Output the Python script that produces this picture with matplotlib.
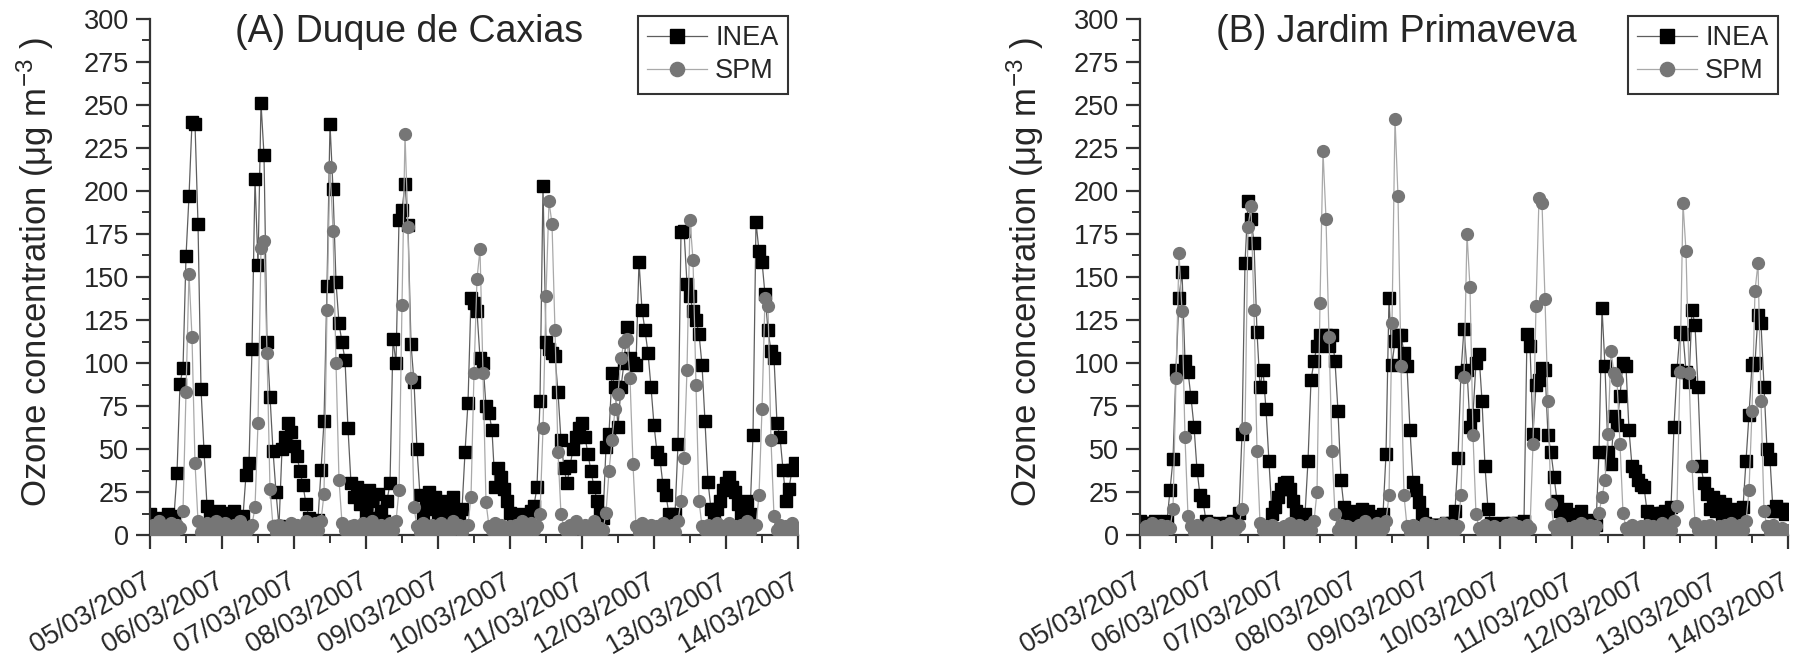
import numpy as np
import matplotlib
matplotlib.use("Agg")
import matplotlib.pyplot as plt

plt.rcParams['font.family'] = ['Liberation Sans', 'DejaVu Sans']
plt.rcParams['mathtext.fontset'] = 'custom'
plt.rcParams['mathtext.rm'] = 'Liberation Sans'
plt.rcParams['mathtext.it'] = 'Liberation Sans:italic'
plt.rcParams['mathtext.bf'] = 'Liberation Sans:bold'

# ---------------- data (hourly, 05/03/2007 00h .. 14/03/2007 00h) ----------------
date_labels = ['05/03/2007', '06/03/2007', '07/03/2007', '08/03/2007', '09/03/2007',
               '10/03/2007', '11/03/2007', '12/03/2007', '13/03/2007', '14/03/2007']

caxias_inea = [
    12, 10, 8, 9, 7, 10, 12, 9, 11, 36, 88, 97, 162, 197, 240, 239, 181, 85, 49, 17, 12, 9, 11, 14,
    10, 13, 9, 12, 14, 10, 8, 11, 35, 42, 108, 207, 157, 251, 221, 112, 80, 49, 25, 5, 50, 57, 65, 60,
    52, 46, 37, 29, 18, 10, 7, 6, 9, 38, 66, 145, 239, 201, 147, 123, 112, 102, 62, 30, 22, 28, 18, 25,
    12, 26, 20, 10, 24, 14, 8, 20, 30, 114, 100, 183, 189, 204, 180, 111, 89, 50, 23, 12, 18, 25, 15, 22,
    10, 20, 14, 8, 18, 22, 12, 9, 15, 48, 77, 138, 135, 130, 103, 100, 75, 71, 61, 28, 39, 34, 27, 20,
    13, 10, 8, 12, 9, 7, 10, 14, 17, 28, 78, 203, 112, 108, 106, 104, 83, 55, 39, 30, 40, 50, 57, 62,
    65, 57, 47, 37, 28, 20, 13, 10, 51, 59, 94, 86, 63, 86, 100, 121, 103, 100, 99, 159, 131, 119, 106, 86,
    64, 48, 44, 29, 23, 12, 10, 12, 53, 176, 177, 146, 139, 130, 125, 117, 99, 66, 31, 15, 12, 15, 20, 26,
    30, 34, 28, 25, 18, 12, 15, 20, 12, 58, 182, 165, 159, 140, 119, 107, 103, 65, 57, 38, 20, 27, 38, 42,
    40,
]
caxias_spm = [
    3, 6, 2, 8, 4, 1, 5, 7, 2, 6, 4, 14, 83, 152, 115, 42, 8, 2, 5, 7, 1, 3, 8, 6,
    2, 7, 4, 1, 6, 3, 8, 5, 2, 4, 6, 16, 65, 167, 171, 106, 27, 5, 2, 6, 3, 1, 4, 7,
    3, 6, 1, 5, 8, 2, 4, 7, 3, 8, 24, 131, 214, 177, 100, 32, 7, 3, 1, 5, 6, 2, 4, 7,
    2, 5, 8, 3, 1, 6, 4, 2, 7, 3, 8, 26, 134, 233, 179, 91, 16, 5, 2, 7, 3, 1, 6, 4,
    3, 7, 2, 5, 1, 8, 4, 6, 2, 5, 6, 22, 94, 149, 166, 94, 19, 5, 3, 7, 2, 6, 1, 4,
    5, 2, 6, 3, 8, 1, 4, 7, 3, 5, 12, 62, 139, 194, 181, 119, 48, 12, 4, 2, 6, 3, 8, 5,
    3, 6, 2, 5, 8, 1, 4, 3, 13, 37, 55, 73, 82, 103, 112, 114, 91, 41, 5, 2, 7, 3, 1, 6,
    2, 5, 3, 7, 1, 4, 6, 2, 8, 20, 45, 96, 183, 160, 87, 20, 5, 3, 6, 1, 4, 7, 2, 5,
    4, 7, 2, 5, 1, 6, 3, 8, 2, 5, 6, 23, 73, 138, 133, 55, 11, 3, 6, 2, 5, 1, 7, 3,
    2,
]
jardim_inea = [
    8, 7, 7, 6, 7, 8, 7, 6, 7, 8, 26, 44, 96, 138, 153, 101, 95, 80, 63, 38, 23, 20, 8, 7,
    6, 6, 7, 6, 6, 7, 6, 8, 7, 13, 59, 158, 194, 184, 170, 118, 86, 96, 73, 43, 12, 16, 22, 27,
    30, 31, 27, 20, 14, 10, 8, 12, 43, 90, 101, 110, 116, 113, 116, 110, 116, 101, 72, 32, 16, 10, 14, 8,
    12, 6, 15, 9, 14, 7, 11, 6, 9, 12, 47, 138, 99, 113, 116, 116, 106, 98, 61, 31, 26, 19, 12, 7,
    6, 6, 6, 6, 6, 6, 7, 6, 7, 14, 45, 95, 120, 96, 63, 70, 100, 105, 78, 40, 15, 7, 6, 6,
    6, 7, 6, 6, 7, 6, 7, 6, 8, 117, 110, 59, 87, 90, 97, 96, 58, 48, 34, 20, 14, 10, 15, 8,
    12, 6, 10, 14, 7, 9, 5, 8, 6, 48, 132, 98, 48, 41, 69, 64, 81, 100, 98, 61, 40, 37, 32, 29,
    28, 14, 11, 12, 13, 12, 13, 14, 12, 16, 63, 96, 118, 117, 95, 89, 131, 122, 86, 40, 30, 24, 15, 22,
    14, 20, 12, 18, 10, 15, 8, 12, 10, 16, 43, 70, 99, 100, 128, 123, 86, 50, 44, 14, 17, 14, 15, 12,
    15,
]
jardim_spm = [
    3, 1, 5, 2, 7, 4, 2, 6, 3, 5, 4, 15, 91, 164, 130, 57, 11, 5, 2, 6, 3, 1, 4, 7,
    2, 6, 4, 1, 5, 3, 7, 2, 4, 6, 15, 62, 179, 191, 131, 49, 7, 3, 5, 1, 6, 2, 4, 3,
    5, 2, 7, 3, 1, 6, 4, 2, 5, 3, 8, 25, 135, 223, 184, 115, 49, 12, 3, 6, 2, 5, 1, 4,
    2, 6, 3, 8, 1, 5, 3, 7, 2, 4, 8, 23, 123, 242, 197, 98, 23, 5, 2, 6, 4, 1, 3, 7,
    3, 6, 2, 5, 1, 7, 4, 2, 6, 3, 5, 23, 92, 175, 144, 58, 12, 4, 2, 6, 3, 1, 5, 2,
    4, 1, 6, 3, 7, 2, 5, 3, 1, 6, 4, 53, 133, 196, 193, 137, 78, 18, 5, 2, 7, 3, 1, 4,
    2, 5, 3, 7, 1, 4, 6, 2, 5, 13, 22, 32, 59, 107, 94, 90, 53, 13, 4, 2, 6, 3, 1, 5,
    3, 6, 2, 5, 1, 4, 7, 2, 5, 3, 8, 17, 95, 193, 165, 94, 40, 7, 3, 1, 5, 2, 6, 4,
    2, 5, 1, 6, 3, 7, 2, 4, 6, 3, 8, 26, 72, 142, 158, 78, 14, 5, 2, 6, 3, 1, 4, 2,
    3,
]

titles = ['(A) Duque de Caxias', '(B) Jardim Primaveva']
ylabel = 'Ozone concentration (μg m$^{-3}$ )'

# ---------------- figure ----------------
W, H = 1800, 656
fig = plt.figure(figsize=(W / 100, H / 100), dpi=100)
axA = fig.add_axes([150 / W, 1 - 535 / H, 648 / W, 516 / H])
axB = fig.add_axes([1140 / W, 1 - 535 / H, 648 / W, 516 / H])

TXT = '#262626'


def draw(ax, inea, spm, title, title_x):
    xi = np.arange(len(inea)) / 24.0
    xs = np.arange(len(spm)) / 24.0
    ax.plot(xi, inea, '-', marker='s', color='#5e5e5e', lw=0.9, mfc='black', mec='black',
            ms=8.5, label='INEA', zorder=2)
    ax.plot(xs, spm, '-', marker='o', color='#a9a9a9', lw=0.9, mfc='#767676', mec='#767676',
            ms=8.5, label='SPM', zorder=3)
    ax.set_xlim(0, 9)
    ax.set_ylim(0, 300)
    ax.set_yticks(np.arange(0, 301, 25))
    ax.set_yticks(np.arange(12.5, 300, 25), minor=True)
    ax.set_xticks(np.arange(0, 10))
    ax.set_xticks(np.arange(0.5, 9, 1.0), minor=True)
    ax.set_xticklabels(date_labels, rotation=30, ha='right', va='center',
                       rotation_mode='anchor')
    for s in ['top', 'right']:
        ax.spines[s].set_visible(False)
    for s in ['left', 'bottom']:
        ax.spines[s].set_linewidth(1.6)
        ax.spines[s].set_color('#333333')
    ax.tick_params(which='major', direction='out', length=10, width=1.6,
                   colors='#333333', labelsize=19.5, labelcolor=TXT)
    ax.tick_params(which='minor', direction='out', length=6, width=1.4, colors='#333333')
    ax.tick_params(axis='x', which='major', pad=22)
    ax.tick_params(axis='y', which='major', pad=5)
    ax.set_ylabel(ylabel, fontsize=25, color=TXT)
    ax.yaxis.set_label_coords(-0.145, 0.51)
    ax.text(title_x, 0.955, title, transform=ax.transAxes, fontsize=27,
            ha='left', va='baseline', color=TXT)
    leg = ax.legend(loc='upper right', bbox_to_anchor=(0.9846, 1.006), fontsize=19.5,
                    frameon=True, fancybox=False, edgecolor='#333333', framealpha=1,
                    borderpad=0.35, labelspacing=0.25, handlelength=2.2,
                    handletextpad=0.3, borderaxespad=0, markerscale=1.2)
    leg.get_frame().set_linewidth(1.5)
    for t in leg.get_texts():
        t.set_color(TXT)


draw(axA, caxias_inea, caxias_spm, titles[0], 0.131)
draw(axB, jardim_inea, jardim_spm, titles[1], 0.118)

fig.savefig('out.png', dpi=100)
